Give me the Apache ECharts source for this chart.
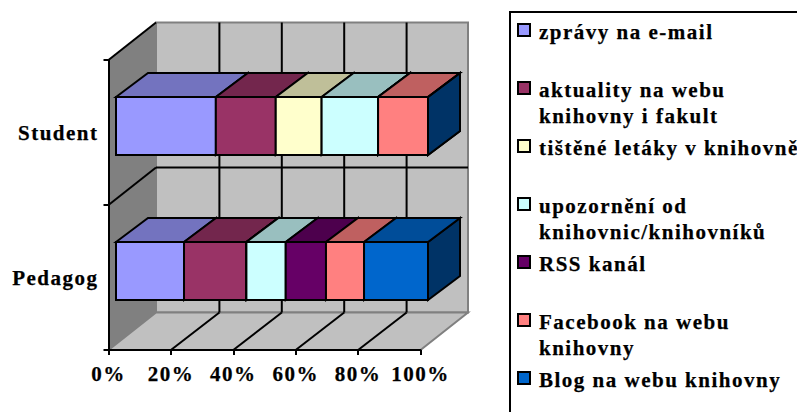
<!DOCTYPE html>
<html>
<head>
<meta charset="utf-8">
<style>html,body{margin:0;padding:0;background:#fff;overflow:hidden}#c{width:797px;height:412px}#c text{letter-spacing:1.5px;stroke:#000;stroke-width:0.25px}</style>
<script src="https://cdn.jsdelivr.net/npm/echarts@6/dist/echarts.min.js"></script>
</head>
<body>
<div id="c"></div>
<script>
const categories = ['Student', 'Pedagog'];
const tickLabels = [0, 20, 40, 60, 80, 100];
const seriesNames = ['zprávy na e-mail', 'aktuality na webu\nknihovny i fakult', 'tištěné letáky v knihovně', 'upozornění od\nknihovnic/knihovníků', 'RSS kanál', 'Facebook na webu\nknihovny', 'Blog na webu knihovny'];
const seriesColors = ['#9999FF', '#993366', '#FFFFCC', '#CCFFFF', '#660066', '#FF8080', '#0066CC'];
const email = [32, 21.8];
const aktuality = [19.2, 20];
const letaky = [14.7, 0];
const upozorneni = [18.1, 12.6];
const rss = [0, 12.9];
const facebook = [16, 12.2];
const blog = [0, 20.5];
const seriesValues = [email, aktuality, letaky, upozorneni, rss, facebook, blog];

const FONT = 'bold 21px "Liberation Serif", serif';
const wallD = [47.5, -37.5], gridD = [48.5, -37.5], barD = [32, -24], barShift = [7.5, -6.5];

function shade(hex, k) {
  const n = parseInt(hex.slice(1), 16);
  const c = [n >> 16, (n >> 8) & 255, n & 255].map(v => Math.round(v * k));
  return 'rgb(' + c.join(',') + ')';
}
function poly(points, fill, stroke, w) {
  return { type: 'polygon', shape: { points }, style: { fill, stroke, lineWidth: w, lineJoin: 'miter' } };
}
function line(a, b, stroke, w) {
  return { type: 'line', shape: { x1: a[0], y1: a[1], x2: b[0], y2: b[1] }, style: { stroke, lineWidth: w, fill: null } };
}

function renderWalls(params, api) {
  const g = params.coordSys, L = g.x, R = g.x + g.width, T = g.y, B = g.y + g.height;
  const [dx, dy] = wallD, kids = [];
  kids.push(poly([[L + dx, T + dy], [R + dx, T + dy], [R + dx, B + dy], [L + dx, B + dy]], '#C0C0C0', '#808080', 2));
  kids.push(poly([[L, T], [L + dx, T + dy], [L + dx, B + dy], [L, B]], '#808080', '#808080', 1));
  kids.push(poly([[L, B], [L + dx, B + dy], [R + dx, B + dy], [R, B]], '#C0C0C0', '#808080', 2));
  tickLabels.slice(1, -1).forEach(v => {
    const x = api.coord([v, 0])[0];
    kids.push(line([x + gridD[0], T + dy], [x + gridD[0], B + dy], '#000', 2));
    kids.push(line([x, B], [x + gridD[0], B + dy], '#000', 2));
  });
  const mid = (T + B) / 2;
  kids.push(line([L + dx, mid + dy], [R + dx, mid + dy], '#000', 2));
  kids.push(line([L, mid], [L + dx, mid + dy], '#000', 2));
  kids.push(line([L, T], [L + dx, T + dy], '#000', 2));
  return { type: 'group', children: kids };
}

function renderBar(params, api) {
  const cat = api.value(0), color = api.visual('color');
  const a = api.coord([api.value(1), cat]), b = api.coord([api.value(2), cat]);
  const h = api.size([0, 1])[1] * 0.4;
  const x0 = a[0] + barShift[0], x1 = b[0] + barShift[0];
  const y0 = a[1] + barShift[1] - h / 2, y1 = y0 + h;
  const [dx, dy] = barD;
  return {
    type: 'group',
    children: [
      poly([[x1, y0], [x1 + dx, y0 + dy], [x1 + dx, y1 + dy], [x1, y1]], shade(color, 0.5), '#000', 2),
      poly([[x0, y0], [x0 + dx, y0 + dy], [x1 + dx, y0 + dy], [x1, y0]], shade(color, 0.75), '#000', 2),
      poly([[x0, y0], [x1, y0], [x1, y1], [x0, y1]], color, '#000', 2)
    ]
  };
}

const barSeries = seriesNames.map((name, i) => ({
  type: 'custom',
  name,
  z: 10 + i,
  itemStyle: { color: seriesColors[i] },
  encode: { x: [1, 2], y: 0 },
  clip: false,
  renderItem: renderBar,
  data: categories.map((c, ci) => {
    let start = 0;
    for (let k = 0; k < i; k++) start += seriesValues[k][ci];
    return [ci, start, start + seriesValues[i][ci]];
  })
}));

const legendX = 510, legendY = 12, legendStep = 58;
const legendEls = [{
  type: 'rect', z: 1,
  shape: { x: legendX, y: legendY, width: 400, height: 500 },
  style: { fill: '#fff', stroke: '#000', lineWidth: 2 }
}];
seriesNames.forEach((name, i) => {
  const y = legendY + 12 + i * legendStep;
  legendEls.push({
    type: 'rect', z: 2,
    shape: { x: 518, y, width: 12, height: 12 },
    style: { fill: seriesColors[i], stroke: '#000', lineWidth: 2 }
  });
  legendEls.push({
    type: 'text', z: 2, x: 539, y: y - 5,
    style: { text: name, font: FONT, fill: '#000', lineHeight: 26, textVerticalAlign: 'top' }
  });
});

const chart = echarts.init(document.getElementById('c'), null, { renderer: 'svg' });
chart.setOption({
  animation: false,
  backgroundColor: '#fff',
  grid: { left: 108.5, top: 60, width: 312, height: 290 },
  xAxis: {
    type: 'value', min: 0, max: 100, interval: 20, z: 20,
    axisLine: { show: true, lineStyle: { color: '#000', width: 2 } },
    axisTick: { show: true, length: 5, lineStyle: { color: '#000', width: 2 } },
    splitLine: { show: false },
    axisLabel: { show: true, formatter: '{value}%', fontFamily: '"Liberation Serif", serif', fontWeight: 'bold', fontSize: 21, color: '#000', margin: 13, hideOverlap: false }
  },
  yAxis: {
    type: 'category', data: categories, inverse: true, z: 20,
    axisLine: { show: true, lineStyle: { color: '#000', width: 2 } },
    axisTick: { show: true, length: 5, lineStyle: { color: '#000', width: 2 } },
    axisLabel: { fontFamily: '"Liberation Serif", serif', fontWeight: 'bold', fontSize: 21, color: '#000', margin: 10, padding: [0, 0, 2, 0] }
  },
  graphic: legendEls,
  series: [{
    type: 'custom', z: 1, silent: true, clip: false,
    renderItem: renderWalls,
    encode: { x: 0, y: 1 },
    data: [[0, 0]]
  }].concat(barSeries)
});
</script>
</body>
</html>
